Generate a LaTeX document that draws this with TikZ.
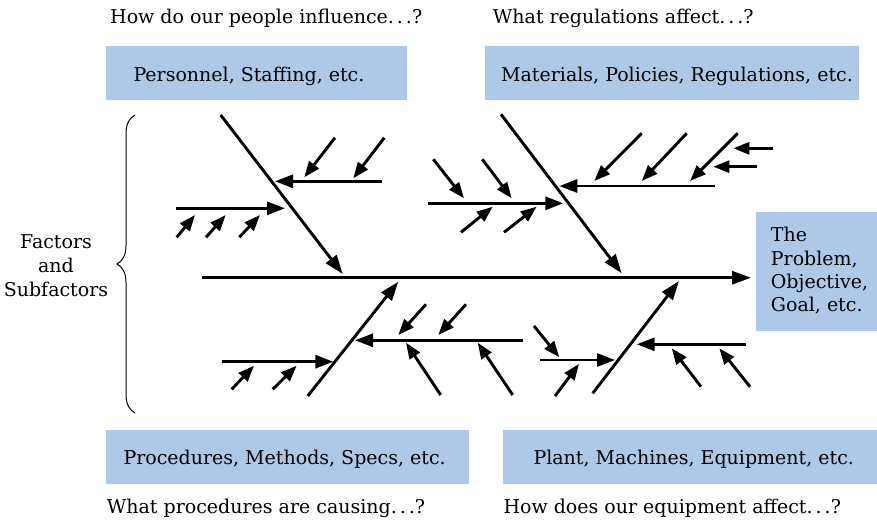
\documentclass[tikz,border=0pt]{standalone}
\usepackage{fontspec}
\setmainfont{DejaVu Serif}
\usetikzlibrary{arrows.meta,decorations.pathreplacing}
\definecolor{boxblue}{RGB}{174,200,232}
\newcommand{\dd}{.\kern3pt.\kern3pt.}
\tikzset{
  boxnode/.style={fill=boxblue, draw=none, inner sep=0pt, anchor=north west},
  txt/.style={anchor=base west, inner sep=0pt, font=\fontsize{19}{23}\selectfont},
  bone/.style={line width=2.9pt, -{Triangle[length=19pt,width=13pt]}},
  subarr/.style={line width=2.9pt, -{Triangle[length=18pt,width=13pt]}},
  tiny/.style={line width=2.9pt, -{Triangle[length=16pt,width=12pt]}},
}
\newcommand{\arr}[4]{\coordinate (#1-s) at #2; \coordinate (#1-e) at #3; \draw[#4] (#1-s) -- (#1-e);}
\begin{document}
\begin{tikzpicture}[x=1pt,y=-1pt]
\useasboundingbox (0,0) rectangle (877,520);
% boxes
\node[boxnode, minimum width=300.7pt, minimum height=53.6pt] (b1) at (106,45.7) {};
\node[boxnode, minimum width=373.3pt, minimum height=53.6pt] (b2) at (485,45.7) {};
\node[boxnode, minimum width=363pt, minimum height=54pt] (b3) at (106,430) {};
\node[boxnode, minimum width=374.7pt, minimum height=54pt] (b4) at (502.3,430) {};
\node[boxnode, minimum width=121.3pt, minimum height=119.3pt] (prob) at (755.7,211.7) {};
% texts
\node[txt] (q1) at (110,23.3) {How do our people influence\dd?};
\node[txt] (q2) at (492.7,23.3) {What regulations affect\dd?};
\node[txt] (q3) at (106.7,513.3) {What procedures are causing\dd?};
\node[txt] (q4) at (503.3,513.3) {How does our equipment affect\dd?};
\node[txt] (t1) at (133.3,81.7) {Personnel, Staffing, etc.};
\node[txt] (t2) at (501,81.7) {Materials, Policies, Regulations, etc.};
\node[txt] (t3) at (123.3,464.3) {Procedures, Methods, Specs, etc.};
\node[txt] (t4) at (533.3,464.3) {Plant, Machines, Equipment, etc.};
\node[txt] (p1) at (770.7,241.7) {The};
\node[txt] (p2) at (770.7,265) {Problem,};
\node[txt] (p3) at (770.7,288.3) {Objective,};
\node[txt] (p4) at (770.7,311.7) {Goal, etc.};
\node[font=\fontsize{19}{24}\selectfont, align=center, inner sep=0pt] (fac) at (56,265.5) {Factors\\and\\Subfactors};
% brace
\coordinate (br-s) at (135,413);
\coordinate (br-e) at (135,115);
\draw[line width=1pt, decorate, decoration={brace, amplitude=18pt}] (br-s) -- (br-e);
% spine
\arr{spine}{(202.3,277.7)}{(751,277.7)}{bone}
% main bones
\arr{tl}{(220.7,115)}{(342.7,274)}{bone}
\arr{tr}{(501,114.3)}{(621.7,273.3)}{bone}
\arr{bl}{(307.7,396)}{(398.3,281.7)}{bone}
\arr{br}{(592.7,393.3)}{(679,281)}{bone}
% top-left
\arr{tla}{(381.7,181.3)}{(275,181.3)}{subarr}
\arr{tla1}{(335,137.7)}{(304.3,177.3)}{tiny}
\arr{tla2}{(384.3,137.7)}{(353.3,178.3)}{tiny}
\arr{tlb}{(175.7,208.3)}{(285,208.3)}{subarr}
\arr{tlb1}{(176.7,237.3)}{(195,215)}{tiny}
\arr{tlb2}{(206,237.3)}{(225.7,215)}{tiny}
\arr{tlb3}{(239.3,237.3)}{(260,215)}{tiny}
% top-right
\arr{tra}{(715,186)}{(559.3,186)}{subarr}
\arr{tra1}{(641.7,133.3)}{(594.3,181)}{tiny}
\arr{tra2}{(686.7,133.3)}{(641.7,181)}{tiny}
\arr{tra3}{(737.7,133.3)}{(690,181)}{tiny}
\arr{tra4}{(773.3,148.3)}{(733.3,148.3)}{tiny}
\arr{tra5}{(756.7,166.7)}{(713.3,166.7)}{tiny}
\arr{trb}{(428.3,203.3)}{(563.3,203.3)}{subarr}
\arr{trb1}{(433.3,159.3)}{(464,198.3)}{tiny}
\arr{trb2}{(482.3,159.3)}{(511.7,198.3)}{tiny}
\arr{trb3}{(461,232.3)}{(492.7,206.7)}{tiny}
\arr{trb4}{(504,232.3)}{(536.7,206.7)}{tiny}
% bottom-left
\arr{bla}{(523.3,340.3)}{(355,340.3)}{subarr}
\arr{bla1}{(426,304.3)}{(398.3,335)}{tiny}
\arr{bla2}{(466,304.3)}{(438.3,335)}{tiny}
\arr{bla3}{(440.7,395)}{(406,342.7)}{tiny}
\arr{bla4}{(512.7,395)}{(477.7,342.7)}{tiny}
\arr{blb}{(222.3,361.7)}{(333.3,361.7)}{subarr}
\arr{blb1}{(231.7,389.3)}{(254,365.7)}{tiny}
\arr{blb2}{(272.7,389.3)}{(296.7,365.7)}{tiny}
% bottom-right
\arr{bra}{(746,344.3)}{(636.7,344.3)}{subarr}
\arr{bra1}{(701,386.7)}{(671.7,348.3)}{tiny}
\arr{bra2}{(750,386.7)}{(719.3,348.3)}{tiny}
\arr{brb}{(540,360)}{(615,360)}{subarr}
\arr{brb1}{(534,326)}{(559.3,357.3)}{tiny}
\arr{brb2}{(555,396)}{(579,364)}{tiny}
\end{tikzpicture}
\end{document}
